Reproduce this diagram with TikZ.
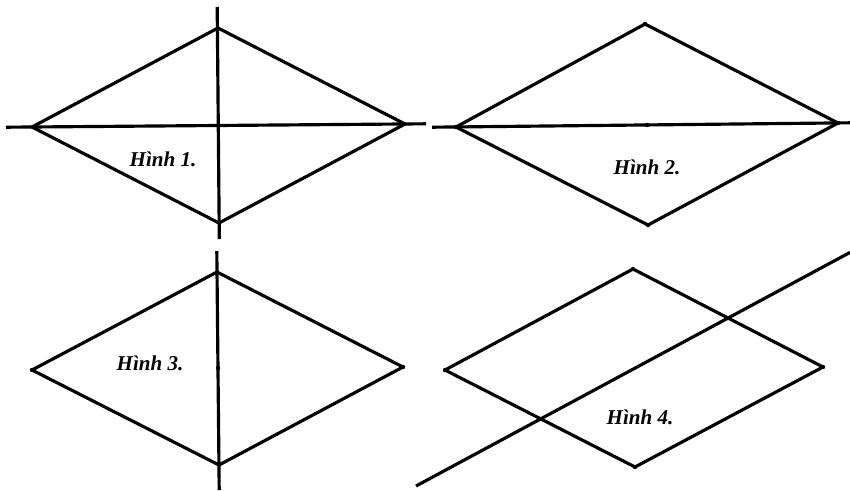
\documentclass[tikz,border=0pt]{standalone}
\usepackage{fontspec}
\setmainfont{Liberation Serif}

\begin{document}
\begin{tikzpicture}[x=0.03cm,y=-0.03cm,line width=2.7pt,line join=round,
    hinh/.style={font=\fontsize{18}{21}\selectfont\bfseries\itshape}]
\useasboundingbox (0,0) rectangle (850,490);
% Hinh 1
\coordinate (A1) at (32,127); \coordinate (B1) at (218,28);
\coordinate (C1) at (405,124); \coordinate (D1) at (219,223);
\coordinate (h1a) at (6,127.2); \coordinate (h1b) at (426,123.8);
\coordinate (v1a) at (217.2,7); \coordinate (v1b) at (219.3,239);
\draw (A1) -- (B1) -- (C1) -- (D1) -- cycle;
\draw (h1a) -- (h1b);
\draw (v1a) -- (v1b);
\node[hinh] (lab1) at (163,159) {Hình 1.};
% Hinh 2
\coordinate (A2) at (456,127); \coordinate (B2) at (645,24);
\coordinate (C2) at (838,123); \coordinate (D2) at (648,225);
\coordinate (O2) at (647,125);
\coordinate (h2a) at (432,127.2); \coordinate (h2b) at (850,122.8);
\draw (A2) -- (B2) -- (C2) -- (D2) -- cycle;
\draw (h2a) -- (h2b);
\foreach \p in {A2,B2,C2,D2,O2} \fill (\p) circle (2.2);
\node[hinh] (lab2) at (647,167) {Hình 2.};
% Hinh 3
\coordinate (A3) at (32,370); \coordinate (B3) at (217,272);
\coordinate (C3) at (403,367); \coordinate (D3) at (219,465);
\coordinate (O3) at (218,368);
\coordinate (v3a) at (216.8,251); \coordinate (v3b) at (219.2,490);
\draw (A3) -- (B3) -- (C3) -- (D3) -- cycle;
\draw (v3a) -- (v3b);
\foreach \p in {A3,C3,O3} \fill (\p) circle (2.2);
\node[hinh] (lab3) at (150,363) {Hình 3.};
% Hinh 4
\coordinate (A4) at (445,370); \coordinate (B4) at (633,269);
\coordinate (C4) at (823,367); \coordinate (D4) at (635,467);
\coordinate (d4a) at (416,486); \coordinate (d4b) at (850,252.4);
\draw (A4) -- (B4) -- (C4) -- (D4) -- cycle;
\draw (d4a) -- (d4b);
\foreach \p in {A4,B4,C4,D4} \fill (\p) circle (2.2);
\node[hinh] (lab4) at (640,417) {Hình 4.};
\end{tikzpicture}
\end{document}
